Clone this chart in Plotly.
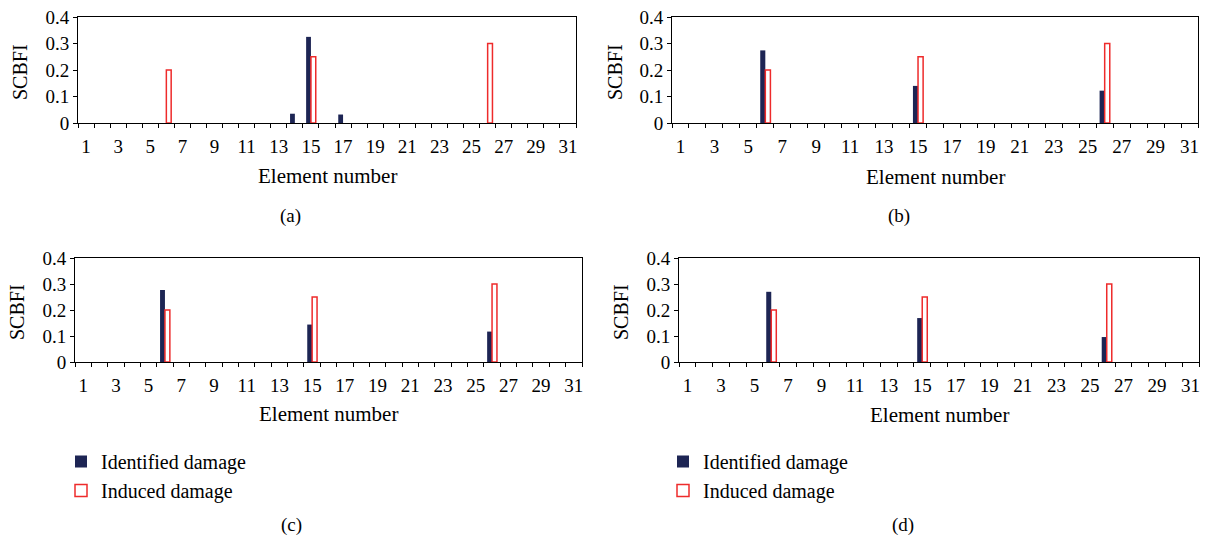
import plotly.graph_objects as go

# ---------------- data ----------------
elements = [1, 2, 3, 4, 5, 6, 7, 8, 9, 10, 11, 12, 13, 14, 15, 16,
            17, 18, 19, 20, 21, 22, 23, 24, 25, 26, 27, 28, 29, 30, 31]
x_tick_values = [1, 3, 5, 7, 9, 11, 13, 15, 17, 19, 21, 23, 25, 27, 29, 31]
x_tick_labels = ["1", "3", "5", "7", "9", "11", "13", "15", "17", "19",
                 "21", "23", "25", "27", "29", "31"]
y_tick_values = [0, 0.1, 0.2, 0.3, 0.4]
y_tick_labels = ["0", "0.1", "0.2", "0.3", "0.4"]

#                1  2  3  4  5  6      7  8  9 10 11 12 13 14     15     16 17     18 19 20 21 22 23 24 25 26     27 28 29 30 31
identified_a = [0, 0, 0, 0, 0, 0,     0, 0, 0, 0, 0, 0, 0, 0.035, 0.325, 0, 0.032, 0, 0, 0, 0, 0, 0, 0, 0, 0,     0, 0, 0, 0, 0]
identified_b = [0, 0, 0, 0, 0, 0.274, 0, 0, 0, 0, 0, 0, 0, 0,     0.140, 0, 0,     0, 0, 0, 0, 0, 0, 0, 0, 0.122, 0, 0, 0, 0, 0]
identified_c = [0, 0, 0, 0, 0, 0.277, 0, 0, 0, 0, 0, 0, 0, 0,     0.144, 0, 0,     0, 0, 0, 0, 0, 0, 0, 0, 0.117, 0, 0, 0, 0, 0]
identified_d = [0, 0, 0, 0, 0, 0.270, 0, 0, 0, 0, 0, 0, 0, 0,     0.169, 0, 0,     0, 0, 0, 0, 0, 0, 0, 0, 0.096, 0, 0, 0, 0, 0]
induced_damage = [0, 0, 0, 0, 0, 0.2, 0, 0, 0, 0, 0, 0, 0, 0,     0.25,  0, 0,     0, 0, 0, 0, 0, 0, 0, 0, 0.3,   0, 0, 0, 0, 0]

series_names = ["Identified damage", "Induced damage"]
panel_labels = ["(a)", "(b)", "(c)", "(d)"]
identified_sets = [identified_a, identified_b, identified_c, identified_d]

# ---------------- style / layout ----------------
W, H = 1210, 543
FONT = "Liberation Serif, Times New Roman, serif"
NAVY = "#1d2554"
RED = "#ee2b2b"

# plot-area pixel boxes: (left, right, top, bottom)
boxes = [(78, 576, 17, 123), (672, 1198, 17, 123),
         (75, 582, 258, 362), (679, 1199, 258, 362)]
ylabel_pos = [(20, 72), (615, 72), (17, 312), (621, 312)]
xlabel_y = [176, 177, 414, 415]
caption_pos = [(290, 216), (899, 216), (291, 525), (903, 525)]
legend_ids = [None, None, "legend", "legend2"]


def nonzero(values):
    # zero-valued elements carry no bar (avoids outline stubs on the baseline)
    return [v if v else None for v in values]


fig = go.Figure()
annotations = []
for i in range(4):
    n = "" if i == 0 else str(i + 1)
    xa, ya = "x" + n, "y" + n
    leg = legend_ids[i]
    fig.add_trace(go.Bar(
        x=elements, y=nonzero(identified_sets[i]), name=series_names[0],
        xaxis=xa, yaxis=ya, marker=dict(color=NAVY, line=dict(width=0)),
        showlegend=leg is not None, legend=leg if leg else "legend"))
    fig.add_trace(go.Bar(
        x=elements, y=nonzero(induced_damage), name=series_names[1],
        xaxis=xa, yaxis=ya, marker=dict(color="white", line=dict(color=RED, width=1.5)),
        showlegend=leg is not None, legend=leg if leg else "legend"))

    l, r, t, b = boxes[i]
    fig.update_layout(**{
        "xaxis" + n: dict(
            domain=[l / W, r / W], anchor=ya, range=[0.5, 31.5],
            tickmode="array", tickvals=x_tick_values, ticktext=x_tick_labels,
            ticks="", ticklabelstandoff=6,
            minor=dict(tickmode="linear", tick0=0.5, dtick=1, ticks="outside",
                       ticklen=4, tickwidth=1, tickcolor="black", showgrid=False),
            showline=True, linecolor="black", linewidth=1, mirror=True,
            showgrid=False, zeroline=False,
            tickfont=dict(family=FONT, size=19, color="black")),
        "yaxis" + n: dict(
            domain=[1 - b / H, 1 - t / H], anchor=xa, range=[0, 0.4],
            tickmode="array", tickvals=y_tick_values, ticktext=y_tick_labels,
            ticks="outside", ticklen=4, tickcolor="black",
            showline=True, linecolor="black", linewidth=1, mirror=True,
            showgrid=False, zeroline=False,
            tickfont=dict(family=FONT, size=19, color="black")),
    })

    cx, cy = ylabel_pos[i]
    annotations.append(dict(text="SCBFI", x=cx / W, y=1 - cy / H, xref="paper", yref="paper",
                            textangle=-90, showarrow=False, xanchor="center", yanchor="middle",
                            font=dict(family=FONT, size=20, color="black")))
    annotations.append(dict(text="Element number", x=(l + r) / 2 / W, y=1 - xlabel_y[i] / H,
                            xref="paper", yref="paper", showarrow=False,
                            xanchor="center", yanchor="middle",
                            font=dict(family=FONT, size=21, color="black")))
    px, py = caption_pos[i]
    annotations.append(dict(text=panel_labels[i], x=px / W, y=1 - py / H, xref="paper", yref="paper",
                            showarrow=False, xanchor="center", yanchor="middle",
                            font=dict(family=FONT, size=19, color="black")))

legend_style = dict(font=dict(family=FONT, size=20, color="black"), bgcolor="rgba(0,0,0,0)",
                    traceorder="normal", xanchor="left", yanchor="top",
                    itemwidth=30, tracegroupgap=0)
fig.update_layout(
    width=W, height=H, margin=dict(l=0, r=0, t=0, b=0, autoexpand=False),
    paper_bgcolor="white", plot_bgcolor="white",
    barmode="group", bargap=0.4, bargroupgap=0,
    annotations=annotations,
    legend=dict(x=61 / W, y=1 - 442 / H, **legend_style),
    legend2=dict(x=663 / W, y=1 - 442 / H, **legend_style),
    font=dict(family=FONT, color="black"),
)

fig.write_html(
    "out.html",
    config={"displayModeBar": False},
    post_script="document.body.style.margin='0';document.body.style.overflow='hidden';",
)
